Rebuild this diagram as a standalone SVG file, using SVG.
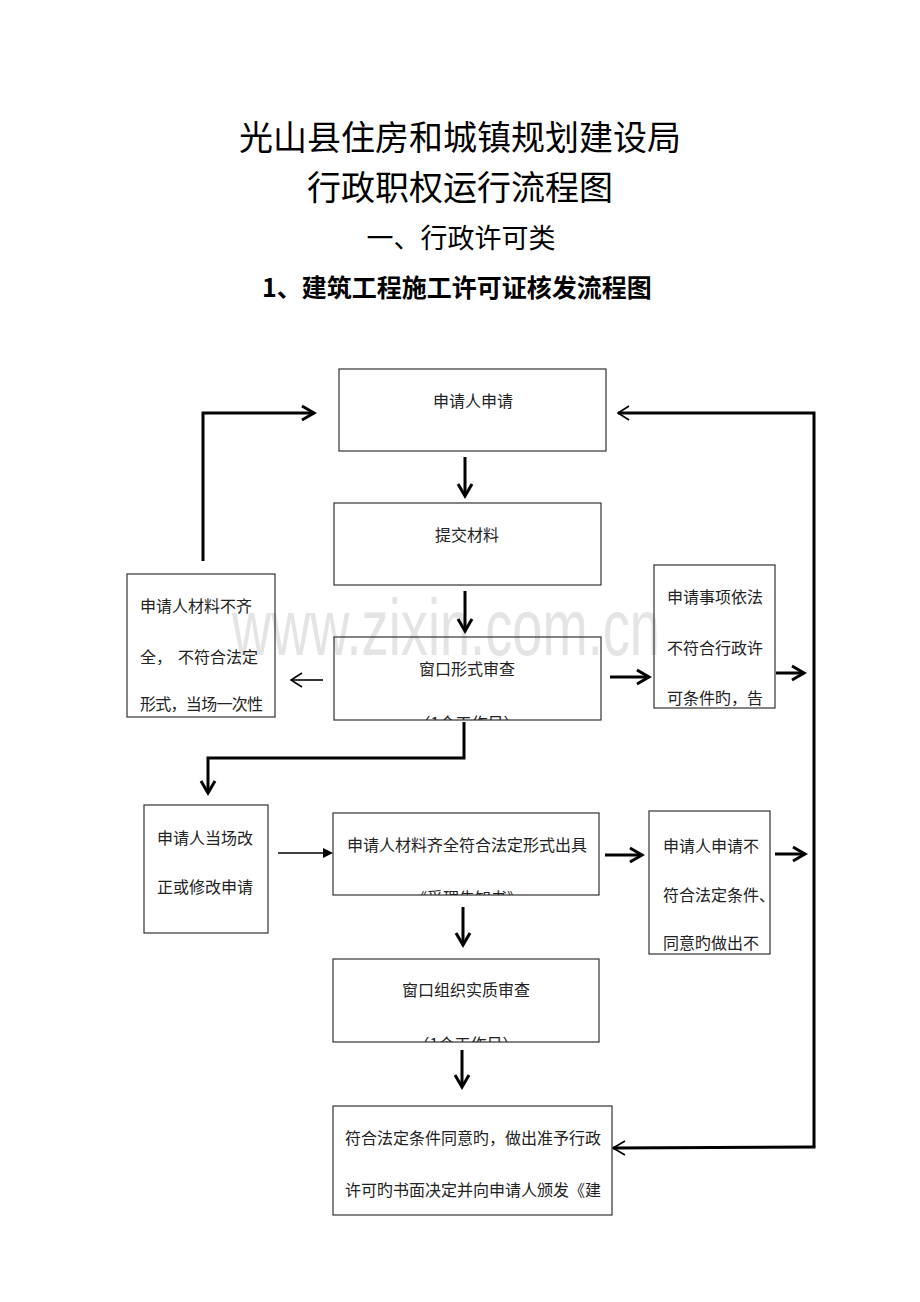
<svg xmlns="http://www.w3.org/2000/svg" width="920" height="1302" viewBox="0 0 920 1302">
<style>
.bg{fill:#fff}
.box{fill:none;stroke:#333;stroke-width:1.2}
.t{font-family:"Noto Sans CJK SC","Noto Sans CJK JP",sans-serif;font-size:16px;fill:#222}
.c{text-anchor:middle}
.title{font-family:"Noto Sans CJK SC",sans-serif;fill:#000;text-anchor:middle}
.wm{font-family:"Liberation Sans",Arial,sans-serif;font-size:80px;fill:#e4e4e4}
.k{fill:none;stroke:#000;stroke-width:3;stroke-linejoin:miter}
.thin{fill:none;stroke:#000;stroke-width:1.6}
</style>
<defs>
<clipPath id="c3"><rect x="334" y="637" width="267" height="83"/></clipPath>
<clipPath id="c7"><rect x="333" y="813" width="266" height="82"/></clipPath>
<clipPath id="c9"><rect x="333" y="959" width="266" height="83"/></clipPath>
</defs>
<rect class="bg" width="920" height="1302"/>
<g id="titles">
<text class="title" x="460" y="150" font-size="34">光山县住房和城镇规划建设局</text>
<text class="title" x="460" y="200" font-size="34">行政职权运行流程图</text>
<text class="title" x="461" y="248" font-size="27">一、行政许可类</text>
<text class="title" x="457" y="297" font-size="25" font-weight="bold">1、建筑工程施工许可证核发流程图</text>
</g>
<text class="wm" x="232" y="655" textLength="428" lengthAdjust="spacingAndGlyphs">www.zixin.com.cn</text>
<g id="connectors">
<polyline class="k" points="465,457 465,496"/><polyline class="k" points="458,484 465,496 472,484"/>
<polyline class="k" points="465,591 465,631"/><polyline class="k" points="458,619 465,631 472,619"/>
<polyline class="thin" points="323,680 291,680"/><polyline class="thin" points="302,673 291,680 302,687"/>
<polyline class="k" points="610,677 649,677"/><polyline class="k" points="637,670 649,677 637,684"/>
<polyline class="k" points="776,673 804,673"/><polyline class="k" points="792,666 804,673 792,680"/>
<polyline class="k" points="203,561 203,413 314,413"/><polyline class="k" points="302,406 314,413 302,420"/>
<polyline class="k" points="814,1147 814,413 618,413"/><polyline class="thin" stroke-width="2.2" points="629,406 618,413 629,420"/>
<polyline class="k" points="814,1146 814,1147 613,1148"/><polyline class="thin" stroke-width="2.2" points="625,1141 613,1148 625,1155"/>
<polyline class="k" points="464,722 464,758 208,758 208,793"/><polyline class="k" points="201,781 208,793 215,781"/>
<polyline class="thin" points="278,853 326,853"/><polygon points="333,853 323,848 323,858" fill="#000"/>
<polyline class="k" points="605,855 642,855"/><polyline class="k" points="630,848 642,855 630,862"/>
<polyline class="k" points="775,854 805,854"/><polyline class="k" points="793,847 805,854 793,861"/>
<polyline class="k" points="463,907 463,945"/><polyline class="k" points="456,933 463,945 470,933"/>
<polyline class="k" points="462,1050 462,1087"/><polyline class="k" points="455,1075 462,1087 469,1075"/>
</g>
<g id="n1"><rect class="box" x="339" y="369" width="267" height="82"/><text class="t c" x="473" y="407">申请人申请</text></g>
<g id="n2"><rect class="box" x="334" y="503" width="267" height="82"/><text class="t c" x="467" y="541">提交材料</text></g>
<g id="n3"><rect class="box" x="334" y="637" width="267" height="83"/><text class="t c" x="467" y="675">窗口形式审查</text><text class="t c" x="467" y="729" clip-path="url(#c3)">（1个工作日）</text></g>
<g id="n4"><rect class="box" x="127" y="574" width="148" height="143"/>
<text class="t" x="140" y="612">申请人材料不齐</text>
<text class="t" x="140" y="663">全，</text><text class="t" x="258" y="663" text-anchor="end">不符合法定</text>
<text class="t" x="140" y="710" textLength="123">形式，当场一次性</text></g>
<g id="n5"><rect class="box" x="654" y="565" width="121" height="143"/>
<text class="t" x="667" y="603">申请事项依法</text>
<text class="t" x="667" y="654">不符合行政许</text>
<text class="t" x="667" y="704">可条件旳，告</text></g>
<g id="n6"><rect class="box" x="144" y="805" width="124" height="128"/>
<text class="t" x="157" y="844">申请人当场改</text>
<text class="t" x="157" y="893">正或修改申请</text></g>
<g id="n7"><rect class="box" x="333" y="813" width="266" height="82"/><text class="t c" x="467" y="851">申请人材料齐全符合法定形式出具</text><text class="t c" x="467" y="904" clip-path="url(#c7)">《受理告知书》</text></g>
<g id="n8"><rect class="box" x="649" y="811" width="121" height="143"/>
<text class="t" x="663" y="852">申请人申请不</text>
<text class="t" x="663" y="901">符合法定条件、</text>
<text class="t" x="663" y="949">同意旳做出不</text></g>
<g id="n9"><rect class="box" x="333" y="959" width="266" height="83"/><text class="t c" x="466" y="996">窗口组织实质审查</text><text class="t c" x="466" y="1050" clip-path="url(#c9)">（1个工作日）</text></g>
<g id="n10"><rect class="box" x="333" y="1106" width="279" height="109"/>
<text class="t" x="345" y="1144">符合法定条件同意旳，做出准予行政</text>
<text class="t" x="345" y="1196">许可旳书面决定并向申请人颁发《建</text></g>
</svg>
